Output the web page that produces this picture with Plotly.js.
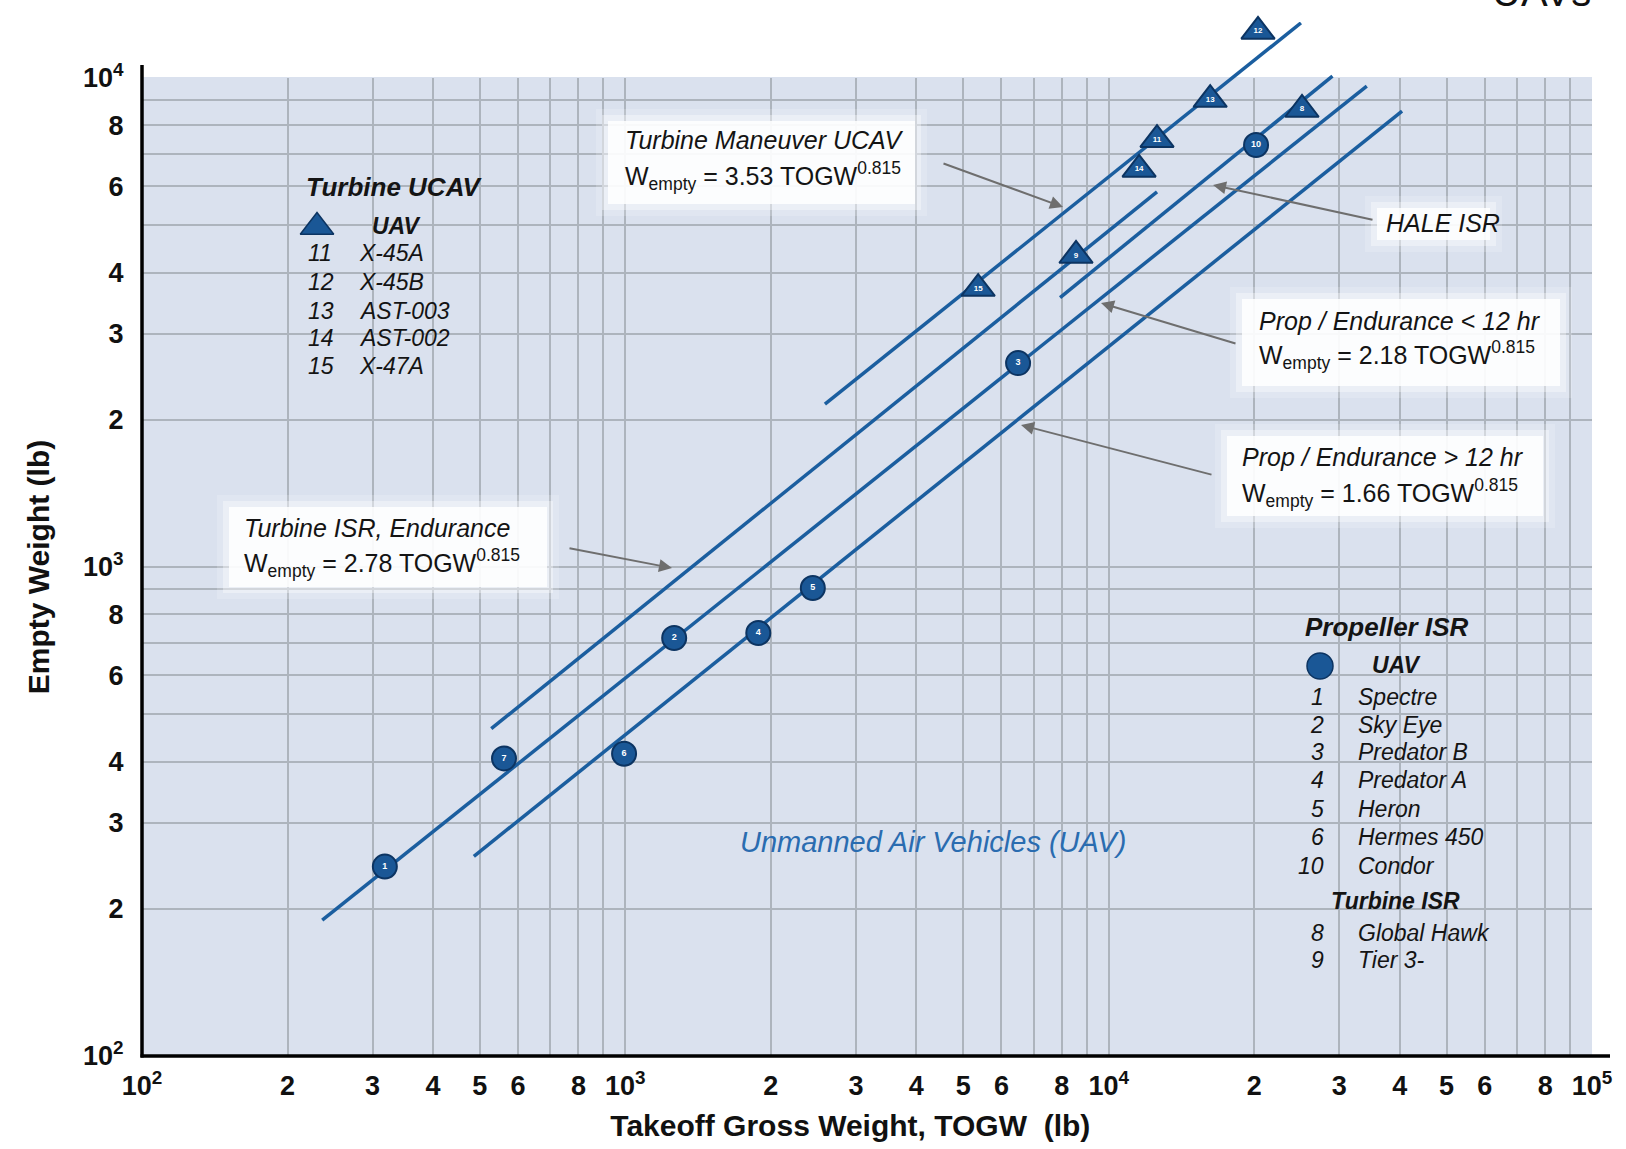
<!DOCTYPE html>
<html>
<head>
<meta charset="utf-8">
<script src="https://cdn.plot.ly/plotly-3.0.1.min.js"></script>
<style>
html, body { margin: 0; padding: 0; background: #ffffff; }
#chart { width: 1626px; height: 1149px; }
</style>
</head>
<body>
<div id="chart"></div>
<script>
// ---------------- DATA ----------------
// Propeller ISR vehicles (circle markers)
const propIds   = ['1', '2', '3', '4', '5', '6', '7', '10'];
const propTOGW  = [318, 1262, 6495, 1884, 2443, 994, 561, 20180];
const propEmpty = [244, 716, 2612, 733, 906, 415, 406, 7295];

// Turbine vehicles (triangle markers): 8, 9 turbine ISR; 11-15 turbine UCAV
const turbIds   = ['8', '9', '11', '12', '13', '14', '15'];
const turbTOGW  = [25120, 8560, 12590, 20370, 16220, 11560, 5370];
const turbEmpty = [8622, 4335, 7480, 12450, 9036, 6502, 3711];

// Trend lines: end points
const fitNames  = ['Turbine Maneuver UCAV', 'Turbine ISR, Endurance', 'HALE ISR',
                   'Prop / Endurance < 12 hr', 'Prop / Endurance > 12 hr'];
const fitTOGWStart  = [2588, 528, 7934, 236, 486];
const fitTOGWEnd    = [24990, 12590, 29040, 34200, 40460];
const fitEmptyStart = [2153, 467, 3557, 189.6, 256];
const fitEmptyEnd   = [12960, 5850, 10090, 9630, 8560];

// Legend tables
const ucavNums  = ['11', '12', '13', '14', '15'];
const ucavNames = ['X-45A', 'X-45B', 'AST-003', 'AST-002', 'X-47A'];
const propNums  = ['1', '2', '3', '4', '5', '6', '10'];
const propNames = ['Spectre', 'Sky Eye', 'Predator B', 'Predator A', 'Heron', 'Hermes 450', 'Condor'];
const turbIsrNums  = ['8', '9'];
const turbIsrNames = ['Global Hawk', 'Tier 3-'];

// Tick values / labels
const xTickVals = [100,200,300,400,500,600,700,800,900,
                   1000,2000,3000,4000,5000,6000,7000,8000,9000,
                   10000,20000,30000,40000,50000,60000,70000,80000,90000,100000];
const xTickText = ['10<sup>2</sup>','2','3','4','5','6','','8','',
                   '10<sup>3</sup>','2','3','4','5','6','','8','',
                   '10<sup>4</sup>','2','3','4','5','6','','8','','10<sup>5</sup>'];
const yTickVals = [100,200,300,400,500,600,700,800,900,
                   1000,2000,3000,4000,5000,6000,7000,8000,9000,10000];
const yTickText = ['10<sup>2</sup>','2','3','4','','6','','8','',
                   '10<sup>3</sup>','2','3','4','','6','','8','','10<sup>4</sup>'];

// ---------------- GEOMETRY HELPERS ----------------
const PL = 142, PR = 1592, PT = 22, PB = 1056, GRID_TOP = 78;
const DEC_Y = (PB - GRID_TOP) / 2;
const px = x => (x - PL) / (PR - PL);           // pixel -> paper x
const py = y => (PB - y) / (PB - PT);           // pixel -> paper y
const dX = x => Math.pow(10, 2 + 3 * (x - PL) / (PR - PL));
const dY = y => Math.pow(10, 2 + (PB - y) / DEC_Y);

const FONT = 'Liberation Sans, Arial, Helvetica, sans-serif';
const BLUE = '#1b5e9f';
const MARK = '#1a5796';
const MARK_EDGE = '#0c3462';
const TXT = '#141414';

// ---------------- TRACES ----------------
const traces = [];
// legend symbols (on the gridded subplot, which also makes that subplot exist)
traces.push({
  type: 'scatter', mode: 'markers', x: [dX(317)], y: [dY(227)],
  xaxis: 'x', yaxis: 'y', cliponaxis: false, hoverinfo: 'skip', showlegend: false,
  marker: { symbol: 'triangle-up', size: 29, color: MARK, line: { color: MARK_EDGE, width: 1.5 } }
});
traces.push({
  type: 'scatter', mode: 'markers', x: [dX(1320)], y: [dY(666)],
  xaxis: 'x', yaxis: 'y', cliponaxis: false, hoverinfo: 'skip', showlegend: false,
  marker: { symbol: 'circle', size: 26, color: MARK, line: { color: MARK_EDGE, width: 1.5 } }
});
for (let i = 0; i < fitNames.length; i++) {
  traces.push({
    type: 'scatter', mode: 'lines', name: fitNames[i],
    x: [fitTOGWStart[i], fitTOGWEnd[i]],
    y: [fitEmptyStart[i], fitEmptyEnd[i]],
    xaxis: 'x2', yaxis: 'y2',
    line: { color: BLUE, width: 3.5 },
    hoverinfo: 'skip', showlegend: false
  });
}
traces.push({
  type: 'scatter', mode: 'markers+text', name: 'Propeller ISR',
  x: propTOGW, y: propEmpty, text: propIds,
  textposition: 'middle center',
  textfont: { family: FONT, size: 9, color: '#ffffff', weight: 'bold' },
  xaxis: 'x2', yaxis: 'y2', cliponaxis: false,
  marker: { symbol: 'circle', size: 24, color: MARK, line: { color: MARK_EDGE, width: 2 } },
  showlegend: false
});
traces.push({
  type: 'scatter', mode: 'markers+text', name: 'Turbine',
  x: turbTOGW, y: turbEmpty, text: turbIds,
  textposition: 'middle center',
  textfont: { family: FONT, size: 8, color: '#ffffff', weight: 'bold' },
  xaxis: 'x2', yaxis: 'y2', cliponaxis: false,
  marker: { symbol: 'triangle-up', size: 29, color: MARK, line: { color: MARK_EDGE, width: 2 } },
  showlegend: false
});

// ---------------- ANNOTATIONS ----------------
const annotations = [];
function txt(text, x, y, o) {
  o = o || {};
  annotations.push({
    xref: 'paper', yref: 'paper', x: px(x), y: py(y),
    text: text, showarrow: false,
    xanchor: o.xanchor || 'left', yanchor: o.yanchor || 'middle',
    font: { family: FONT, size: o.size || 23, color: o.color || TXT, weight: o.weight || 'normal' },
    textangle: o.angle || 0
  });
}
function arrow(tx, ty, hx, hy) {
  annotations.push({
    xref: 'paper', yref: 'paper', x: px(hx), y: py(hy),
    ax: tx - hx, ay: ty - hy, text: '', showarrow: true,
    arrowhead: 2, arrowsize: 1.3, arrowwidth: 2, arrowcolor: '#6e6e6e'
  });
}

// Turbine UCAV legend block
txt('<b><i>Turbine UCAV</i></b>', 304, 187, { size: 26 });
txt('<b><i>UAV</i></b>', 396, 226, { size: 23, xanchor: 'center' });
const ucavRowY = [253, 282, 311, 338, 366];
for (let i = 0; i < ucavNums.length; i++) {
  txt('<i>' + ucavNums[i] + '</i>', 306, ucavRowY[i]);
  txt('<i>' + ucavNames[i] + '</i>', 357, ucavRowY[i]);
}

// Propeller ISR legend block
txt('<b><i>Propeller ISR</i></b>', 1303, 627, { size: 26 });
txt('<b><i>UAV</i></b>', 1396, 665, { size: 23, xanchor: 'center' });
const propRowY = [697, 725, 752, 780, 809, 837, 866];
for (let i = 0; i < propNums.length; i++) {
  txt('<i>' + propNums[i] + '</i>', 1326, propRowY[i], { xanchor: 'right' });
  txt('<i>' + propNames[i] + '</i>', 1356, propRowY[i]);
}
txt('<b><i>Turbine ISR</i></b>', 1395, 901, { size: 23, xanchor: 'center' });
const turbRowY = [933, 960];
for (let i = 0; i < turbIsrNums.length; i++) {
  txt('<i>' + turbIsrNums[i] + '</i>', 1326, turbRowY[i], { xanchor: 'right' });
  txt('<i>' + turbIsrNames[i] + '</i>', 1356, turbRowY[i]);
}

// Equation callouts
txt('<i>Turbine Maneuver UCAV</i>', 623, 140, { size: 25 });
txt('W<sub>empty</sub> = 3.53 TOGW<sup>0.815</sup>', 623, 176, { size: 25 });
arrow(942, 163, 1063, 207);

txt('<i>HALE ISR</i>', 1384, 223, { size: 25 });
arrow(1374, 220, 1213, 185);

txt('<i>Prop / Endurance &lt; 12 hr</i>', 1257, 321, { size: 25 });
txt('W<sub>empty</sub> = 2.18 TOGW<sup>0.815</sup>', 1257, 355, { size: 25 });
arrow(1237, 344, 1101, 303);

txt('<i>Prop / Endurance &gt; 12 hr</i>', 1240, 457, { size: 25 });
txt('W<sub>empty</sub> = 1.66 TOGW<sup>0.815</sup>', 1240, 493, { size: 25 });
arrow(1213, 475, 1021, 425);

txt('<i>Turbine ISR, Endurance</i>', 242, 528, { size: 25 });
txt('W<sub>empty</sub> = 2.78 TOGW<sup>0.815</sup>', 242, 563, { size: 25 });
arrow(568, 548, 672, 568);

txt('<i>Unmanned Air Vehicles (UAV)</i>', 933, 842, { size: 29, color: '#2a6cb0', xanchor: 'center' });

// cropped heading at the very top right
txt('UAVs', 1541, 16, { size: 40, xanchor: 'center', yanchor: 'bottom', color: '#111111' });

// ---------------- SHAPES ----------------
const shapes = [];
// plot background (only up to 10^4)
shapes.push({ type: 'rect', xref: 'paper', yref: 'paper', layer: 'below',
  x0: 0, x1: 1, y0: 0, y1: py(GRID_TOP - 1), fillcolor: '#dae1ee', line: { width: 0 } });
// glowing white boxes behind callouts
function glow(x0, y0, x1, y1) {
  const steps = [[12, 0.18], [6, 0.35], [0, 0.85]];
  for (const [e, a] of steps) {
    shapes.push({ type: 'rect', xref: 'paper', yref: 'paper', layer: 'above',
      x0: px(x0 - e), x1: px(x1 + e), y0: py(y1 + e), y1: py(y0 - e),
      fillcolor: 'rgba(255,255,255,' + a + ')', line: { width: 0 } });
  }
}
glow(608, 121, 915, 204);
glow(229, 507, 547, 587);
glow(1242, 299, 1560, 386);
glow(1227, 436, 1543, 516);
glow(1377, 208, 1490, 240);
// axis lines
shapes.push({ type: 'line', xref: 'paper', yref: 'paper', layer: 'above',
  x0: 0, x1: 0, y0: py(PB + 1.5), y1: py(65), line: { color: '#000000', width: 3.5 } });
shapes.push({ type: 'line', xref: 'paper', yref: 'paper', layer: 'above',
  x0: px(PL - 1.5), x1: px(1610), y0: 0, y1: 0, line: { color: '#000000', width: 3.5 } });

// ---------------- LAYOUT ----------------
const tickFont = { family: FONT, size: 27, color: '#111111', weight: 'bold' };
const layout = {
  width: 1626, height: 1149,
  margin: { l: PL, r: 1626 - PR, t: PT, b: 1149 - PB, pad: 0 },
  paper_bgcolor: '#ffffff',
  plot_bgcolor: 'rgba(0,0,0,0)',
  showlegend: false,
  xaxis: {
    type: 'log', range: [2, 5], domain: [0, 1], anchor: 'y',
    tickmode: 'array', tickvals: xTickVals, ticktext: xTickText,
    tickfont: tickFont, ticks: 'outside', ticklen: 6, tickcolor: 'rgba(0,0,0,0)',
    showgrid: true, gridcolor: '#adb4bd', gridwidth: 2,
    showline: false, zeroline: false, fixedrange: true,
    title: { text: 'Takeoff Gross Weight, TOGW&nbsp; (lb)&nbsp;&nbsp;&nbsp;&nbsp;', standoff: 14,
             font: { family: FONT, size: 30, color: '#111111', weight: 'bold' } }
  },
  yaxis: {
    type: 'log', range: [2, 4], domain: [0, py(GRID_TOP)], anchor: 'x',
    tickmode: 'array', tickvals: yTickVals, ticktext: yTickText,
    tickfont: tickFont, ticks: 'outside', ticklen: 12, tickcolor: 'rgba(0,0,0,0)',
    showgrid: true, gridcolor: '#adb4bd', gridwidth: 2,
    showline: false, zeroline: false, fixedrange: true,
    title: { text: 'Empty Weight (lb)', standoff: 24,
             font: { family: FONT, size: 30, color: '#111111', weight: 'bold' } }
  },
  xaxis2: {
    type: 'log', range: [2, 5], domain: [0, 1], anchor: 'y2',
    visible: false, showgrid: false, zeroline: false, fixedrange: true
  },
  yaxis2: {
    type: 'log', range: [2, 2 + (PB - PT) / DEC_Y], domain: [0, 1], anchor: 'x2',
    visible: false, showgrid: false, zeroline: false, fixedrange: true
  },
  annotations: annotations,
  shapes: shapes
};

Plotly.newPlot('chart', traces, layout, { displayModeBar: false, staticPlot: true });
</script>
</body>
</html>
